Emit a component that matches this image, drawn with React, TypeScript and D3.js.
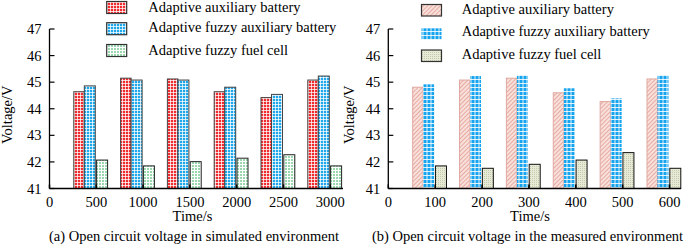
import React from "react";
import * as d3 from "d3";

const leftTimes = [500, 1000, 1500, 2000, 2500, 3000];
const leftAux = [44.64, 45.15, 45.12, 44.64, 44.42, 45.08];
const leftFuzzyAux = [44.86, 45.08, 45.08, 44.81, 44.54, 45.23];
const leftFuel = [42.07, 41.85, 42.01, 42.14, 42.27, 41.85];
const leftXTicks = [0, 500, 1000, 1500, 2000, 2500, 3000];

const rightTimes = [100, 200, 300, 400, 500, 600];
const rightAux = [44.81, 45.08, 45.15, 44.6, 44.27, 45.12];
const rightFuzzyAux = [44.92, 45.23, 45.27, 44.77, 44.39, 45.27];
const rightFuel = [41.85, 41.76, 41.91, 42.07, 42.35, 41.76];
const rightXTicks = [0, 100, 200, 300, 400, 500, 600];

const yTicks = [41, 42, 43, 44, 45, 46, 47];
const seriesNames = [
  "Adaptive auxiliary battery",
  "Adaptive fuzzy auxiliary battery",
  "Adaptive fuzzy fuel cell",
];

const TS: React.CSSProperties = { fontFamily: '"Liberation Serif"', fontSize: 14.5 };

type PanelProps = {
  times: number[];
  series: number[][];
  xTicks: number[];
  xDomainMax: number;
  x0: number;
  x1: number;
  axisEnd: number;
  fills: string[];
  strokes: string[];
  legendSwatchX: number;
  legendTextX: number;
  legendSwatchY: number[];
  legendSwatchH: number;
  legendBaselines: number[];
  yLabelX: number;
  caption: string;
  captionX: number;
  timeX: number;
};

function Panel(p: PanelProps) {
  const y = d3.scaleLinear().domain([41, 47]).range([188.5, 29]);
  const x = d3.scaleLinear().domain([0, p.xDomainMax]).range([p.x0, p.x1]);
  const base = y(41);
  const offsets = [
    [-22.5, 10.5],
    [-12, 11],
    [0.3, 11],
  ];
  return (
    <g>
      {p.series.map((vals, si) =>
        vals.map((v, i) => {
          const t = x(p.times[i]);
          return (
            <rect
              key={`b${si}-${i}`}
              x={t + offsets[si][0]}
              y={y(v)}
              width={offsets[si][1]}
              height={base - y(v)}
              fill={p.fills[si]}
              stroke={p.strokes[si]}
              strokeWidth={1}
            />
          );
        })
      )}
      <line x1={p.x0} x2={p.x0} y1={y(47)} y2={base} stroke="#000" strokeWidth={1.3} />
      <line x1={p.x0} x2={p.axisEnd} y1={base} y2={base} stroke="#000" strokeWidth={1.3} />
      {yTicks.map((t) => (
        <g key={`yt${t}`}>
          <line x1={p.x0} x2={p.x0 + 5} y1={y(t)} y2={y(t)} stroke="#000" strokeWidth={1.2} />
          <text style={TS} x={p.x0 - 8} y={y(t)} dy="0.35em" textAnchor="end">
            {t}
          </text>
        </g>
      ))}
      {p.xTicks.map((t) => (
        <g key={`xt${t}`}>
          <line x1={x(t)} x2={x(t)} y1={base} y2={base - 4} stroke="#000" strokeWidth={1.5} />
          <text style={TS} x={x(t)} y={206.5} textAnchor="middle">
            {t}
          </text>
        </g>
      ))}
      <text style={TS} x={p.timeX} y={221} textAnchor="middle">
        Time/s
      </text>
      <text style={TS} x={p.captionX} y={241} textAnchor="middle">
        {p.caption}
      </text>
      <text
        style={TS}
        transform={`translate(${p.yLabelX},${(y(47) + base) / 2 + 6}) rotate(-90)`}
        textAnchor="middle"
      >
        Voltage/V
      </text>
      {seriesNames.map((name, i) => (
        <g key={`lg${i}`}>
          <rect
            x={p.legendSwatchX}
            y={p.legendSwatchY[i]}
            width={20}
            height={p.legendSwatchH}
            fill={p.fills[i]}
            stroke={i === 1 && p.strokes[1] === "none" ? "none" : "#333"}
            strokeWidth={1.2}
          />
          <text style={TS} x={p.legendTextX} y={p.legendBaselines[i]}>
            {name}
          </text>
        </g>
      ))}
    </g>
  );
}

export default function App() {
  return (
    <svg
      width={685}
      height={246}
      style={{ position: "absolute", left: 0, top: 0, background: "#fff" }}
    >
      <defs>
        <pattern id="redGrid" width={3} height={3} patternUnits="userSpaceOnUse">
          <rect width={3} height={3} fill="#ef2b2f" />
          <rect x={2} width={1} height={3} fill="#fff" opacity={0.75} />
          <rect y={2} width={3} height={1} fill="#fff" opacity={0.75} />
        </pattern>
        <pattern id="blueGrid" width={3} height={3} patternUnits="userSpaceOnUse">
          <rect width={3} height={3} fill="#1ea7ea" />
          <rect x={2} width={1} height={3} fill="#fff" opacity={0.75} />
          <rect y={2} width={3} height={1} fill="#fff" opacity={0.75} />
        </pattern>
        <pattern id="greenGrid" width={3} height={3} patternUnits="userSpaceOnUse">
          <rect width={3} height={3} fill="#fff" />
          <rect x={0} y={0} width={2} height={2} fill="#49b86e" opacity={0.55} />
        </pattern>
        <pattern
          id="pinkHatch"
          width={3}
          height={3}
          patternUnits="userSpaceOnUse"
          patternTransform="rotate(45)"
        >
          <rect width={3} height={3} fill="#f8e0db" />
          <rect width={1} height={3} fill="#e0958c" opacity={0.7} />
        </pattern>
        <pattern id="blueCheck" width={4} height={4} patternUnits="userSpaceOnUse" x={0.5}>
          <rect width={4} height={4} fill="#16a4ee" />
          <rect x={2} width={1} height={4} fill="#fff" opacity={0.85} />
          <rect y={3} width={4} height={1} fill="#fff" opacity={0.85} />
        </pattern>
        <pattern id="olive" width={2} height={2} patternUnits="userSpaceOnUse">
          <rect width={2} height={2} fill="#e6ead6" />
          <rect width={1} height={1} fill="#c3cbab" />
        </pattern>
      </defs>
      <Panel
        times={leftTimes}
        series={[leftAux, leftFuzzyAux, leftFuel]}
        xTicks={leftXTicks}
        xDomainMax={3000}
        x0={49.5}
        x1={330.3}
        axisEnd={343}
        fills={["url(#redGrid)", "url(#blueGrid)", "url(#greenGrid)"]}
        strokes={["#444", "#444", "#222"]}
        legendSwatchX={106.7}
        legendTextX={148.3}
        legendSwatchY={[1.5, 22.7, 44.5]}
        legendSwatchH={12}
        legendBaselines={[11.5, 32, 54.5]}
        yLabelX={12}
        caption="(a) Open circuit voltage in simulated environment"
        captionX={194}
        timeX={192.5}
      />
      <Panel
        times={rightTimes}
        series={[rightAux, rightFuzzyAux, rightFuel]}
        xTicks={rightXTicks}
        xDomainMax={600}
        x0={388.3}
        x1={669.5}
        axisEnd={681}
        fills={["url(#pinkHatch)", "url(#blueCheck)", "url(#olive)"]}
        strokes={["#e0a8a0", "none", "#111"]}
        legendSwatchX={421.5}
        legendTextX={461.7}
        legendSwatchY={[4.5, 28.3, 50]}
        legendSwatchH={11.5}
        legendBaselines={[14, 36.3, 59]}
        yLabelX={354}
        caption="(b) Open circuit voltage in the measured environment"
        captionX={527.5}
        timeX={530}
      />
    </svg>
  );
}
